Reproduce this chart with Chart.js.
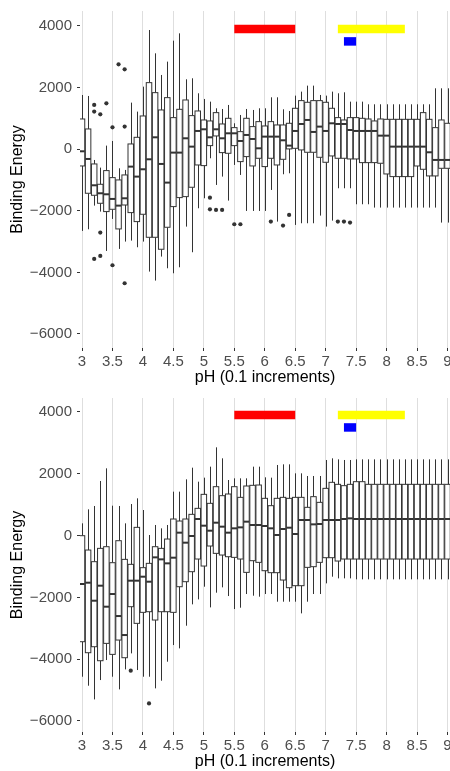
<!DOCTYPE html>
<html lang="en">
<head>
  <meta charset="UTF-8" />
  <title>Binding Energy vs pH</title>
  <script src="https://cdn.jsdelivr.net/npm/chart.js"></script>
  <style>
    body { margin: 0; background: #fff; }
    canvas { display: block; }
  </style>
</head>
<body>
  <canvas id="topChart" width="450" height="387"></canvas>
  <canvas id="bottomChart" width="450" height="384"></canvas>

  <script>
    const ph = [3.0, 3.1, 3.2, 3.3, 3.4, 3.5, 3.6, 3.7, 3.8, 3.9,
                4.0, 4.1, 4.2, 4.3, 4.4, 4.5, 4.6, 4.7, 4.8, 4.9,
                5.0, 5.1, 5.2, 5.3, 5.4, 5.5, 5.6, 5.7, 5.8, 5.9,
                6.0, 6.1, 6.2, 6.3, 6.4, 6.5, 6.6, 6.7, 6.8, 6.9,
                7.0, 7.1, 7.2, 7.3, 7.4, 7.5, 7.6, 7.7, 7.8, 7.9,
                8.0, 8.1, 8.2, 8.3, 8.4, 8.5, 8.6, 8.7, 8.8, 8.9, 9.0];
    const xTicks = [3, 3.5, 4, 4.5, 5, 5.5, 6, 6.5, 7, 7.5, 8, 8.5, 9];
    const yTicks = [-6000, -4000, -2000, 0, 2000, 4000];

    // top panel: whisker low, q1, median, q3, whisker high
    const topLow = [-2654, -2600, -1832, -2026, -3303, -2264, -3238, -3000, -2968, -3184,
                    -3000, -3974, -4266, -3487, -3866, -4028, -3834, -2514, -3346, -1918,
                    -1594, -295, -1161, -890, -1669, -511, -836, -2005, -2005, -2005,
                    -2005, -1323, -2351, -814, -782, -2459, -2405, -2405, -2405, -2156,
                    -2513, -2319, -1269, -1269, -1269, -1788, -1788, -1788, -1896, -1896,
                    -1896, -1896, -1896, -1896, -1896, -1896, -1896, -1896, -1896, -2383, -2383];
    const topQ1 = [-544, -1431, -1496, -1756, -2026, -1951, -2589, -1812, -2059, -2351,
                   -2113, -2860, -2860, -3249, -2535, -1864, -1572, -1540, -1236, -512,
                   -533, 116, 430, -111, -133, 116, -403, -241, -544, -295,
                   -565, -295, -512, -328, 9, 29, -24, -100, -100, -263,
                   -425, -219, -295, -295, -317, -317, -436, -436, -436, -457,
                   -804, -890, -890, -890, -890, -545, -652, -868, -868, -620, -620];
    const topMed = [-68, -317, -1172, -1431, -1464, -1615, -1832, -1594, -566, -890,
                    -652, -328, 386, -479, -1085, -111, -111, 354, 83, 592,
                    646, 386, 646, 354, 516, 516, 267, 462, 332, 29,
                    408, 408, 408, 289, 116, 592, 819, 949, 560, 733,
                    592, 841, 819, 819, 624, 592, 592, 592, 592, 440,
                    440, 83, 83, 83, 83, 83, 83, -100, -349, -349, -349];
    const topQ3 = [981, 657, -479, -1139, -695, -923, -998, -836, 170, 386,
                   1079, 2161, 1836, 1274, 1674, 1025, 1295, 1598, 1090, 1241,
                   949, 917, 1187, 819, 1003, 700, 570, 1003, 733, 895,
                   754, 895, 787, 787, 841, 1328, 1577, 1523, 1577, 1577,
                   1523, 1328, 1025, 949, 1025, 1025, 1003, 981, 917, 981,
                   970, 970, 970, 970, 970, 970, 1187, 970, 700, 949, 841];
    const topHigh = [1760, 1728, -350, -598, 116, 267, -620, -674, 1512, 1220,
                     2031, 3870, 3113, 2410, 2843, 3524, 3762, 2269, 2302, 1815,
                     1631, 1544, 1328, 1306, 1436, 841, 1111, 1306, 1274, 1328,
                     1328, 1685, 1685, 1295, 1241, 1739, 1869, 2064, 2064, 1761,
                     1739, 1869, 1815, 1847, 1544, 1544, 1544, 1458, 1458, 1458,
                     1458, 1458, 1458, 1458, 1458, 1458, 1458, 1458, 1977, 1977, 1977];
    const topOutX = [3.2, 3.2, 3.3, 3.4, 3.5, 3.6, 3.7, 3.7, 3.3, 3.2, 3.3, 3.5, 3.7,
                     5.1, 5.1, 5.2, 5.3, 5.5, 5.6, 6.1, 6.3, 6.4, 7.2, 7.3, 7.4];
    const topOutY = [1436, 1220, 1133, 1490, 711, 2756, 2594, 733, -2708, -3563, -3465, -3768, -4353,
                     -1575, -1951, -1973, -1973, -2437, -2437, -2351, -2481, -2135, -2351, -2351, -2383];

    // bottom panel
    const botLow = [-4567, -4858, -5301, -4675, -4027, -4567, -4977, -4330, -3812, -4351,
                    -4567, -4567, -4944, -4696, -4081, -3542, -3650, -2916, -2225, -2064,
                    -1654, -2323, -1848, -1675, -1956, -2377, -2333, -1891, -1945, -1977,
                    -1891, -1891, -2139, -2139, -2139, -2139, -2517, -2139, -1891, -1891,
                    -1546, -1330, -1384, -1384, -1384, -1416, -1416, -1416, -1416, -1416,
                    -1416, -1416, -1416, -1416, -1416, -1416, -1416, -1416, -1416, -1416, -1416];
    const botQ1 = [-3434, -3790, -3596, -4049, -3488, -3844, -3380, -3952, -2301, -2840,
                   -2484, -2463, -2732, -2463, -2463, -2484, -1654, -1492, -1168, -758,
                   -985, -337, -575, -629, -683, -704, -758, -1190, -812, -866,
                   -1136, -1200, -1200, -1438, -1686, -1621, -1621, -1028, -1006, -866,
                   -715, -715, -823, -758, -758, -758, -758, -758, -758, -758,
                   -758, -758, -758, -758, -758, -758, -758, -758, -758, -758, -758];
    const botMed = [-1567, -1524, -2107, -1621, -2301, -1891, -2603, -3218, -1459, -1459,
                    -1330, -1492, -704, -769, -898, -715, 95, -229, -13, 537,
                    321, 159, 418, 289, 95, 235, 267, 451, 343, 343,
                    310, 235, 19, 213, 256, 51, 505, 505, 364, 375,
                    505, 505, 505, 537, 558, 537, 537, 537, 537, 537,
                    537, 537, 537, 537, 537, 537, 537, 537, 537, 537, 537];
    const botQ3 = [-3, -467, -844, -413, -359, -877, -165, -769, -930, 267,
                   -1038, -898, -359, -413, -111, 537, 472, 537, 688, 882,
                   1335, 1044, 1583, 1292, 1346, 1583, 1238, 1605, 1627, 1637,
                   1206, 968, 1206, 1238, 1206, 1238, 1238, 915, 1260, 1076,
                   1529, 1724, 1659, 1616, 1659, 1745, 1745, 1659, 1659, 1659,
                   1659, 1659, 1659, 1659, 1659, 1659, 1659, 1659, 1659, 1659, 1659];
    const botHigh = [397, 850, 958, 1767, 2177, 968, 958, 397, 1022, 1206,
                     828, 19, 343, 235, 343, 1422, 1422, 1821, 2198, 1745,
                     1875, 2231, 2857, 2501, 1799, 1853, 1853, 1853, 2231, 2231,
                     1886, 1875, 2285, 2306, 2306, 2015, 2015, 1929, 1929, 1929,
                     2447, 2501, 2468, 2447, 2447, 2468, 2468, 2468, 2468, 2468,
                     2468, 2468, 2468, 2468, 2468, 2468, 2468, 2468, 2468, 2468, 2468];
    const botOutX = [3.8, 4.1];
    const botOutY = [-4373, -5430];

    // coloured range markers: [from pH, to pH, energy]
    const redBand = [5.5, 6.5, 3900];
    const yellowBand = [7.2, 8.3, 3900];
    const blueBand = [7.3, 7.5, 3500];

    const boxWidth = 0.09;
    Chart.defaults.font.family = "'Liberation Sans', Arial, Helvetica, sans-serif";

    function boxPlugin(lo, q1, med, q3, hi) {
      return {
        id: 'boxes',
        beforeDatasetsDraw(chart) {
          const { ctx, chartArea, scales: { x, y } } = chart;
          ctx.save();
          ctx.beginPath();
          ctx.rect(chartArea.left, chartArea.top, chartArea.width, chartArea.height);
          ctx.clip();
          ctx.strokeStyle = '#333333';
          ctx.fillStyle = '#ffffff';
          ph.forEach((v, i) => {
            const cx = Math.round(x.getPixelForValue(v)) + 0.5;
            const left = x.getPixelForValue(v - boxWidth / 2);
            const right = x.getPixelForValue(v + boxWidth / 2);
            const yLo = y.getPixelForValue(lo[i]);
            const yQ1 = y.getPixelForValue(q1[i]);
            const yMed = y.getPixelForValue(med[i]);
            const yQ3 = y.getPixelForValue(q3[i]);
            const yHi = y.getPixelForValue(hi[i]);
            ctx.lineWidth = 1;
            ctx.beginPath();
            ctx.moveTo(cx, yHi); ctx.lineTo(cx, yQ3);
            ctx.moveTo(cx, yQ1); ctx.lineTo(cx, yLo);
            ctx.stroke();
            ctx.fillRect(left, yQ3, right - left, yQ1 - yQ3);
            ctx.strokeRect(left, yQ3, right - left, yQ1 - yQ3);
            ctx.lineWidth = 2;
            ctx.beginPath();
            ctx.moveTo(left, yMed); ctx.lineTo(right, yMed);
            ctx.stroke();
          });
          ctx.restore();
        }
      };
    }

    function band(b, color) {
      return {
        data: [{ x: b[0], y: b[2] }, { x: b[1], y: b[2] }],
        showLine: true,
        borderColor: color,
        borderWidth: 8.5,
        borderCapStyle: 'butt',
        pointRadius: 0
      };
    }

    function makeChart(id, plotH, yMin, yMax, outX, outY, boxes) {
      const canvas = document.getElementById(id);
      return new Chart(canvas.getContext('2d'), {
        type: 'scatter',
        data: {
          datasets: [
            {
              data: outX.map((v, i) => ({ x: v, y: outY[i] })),
              pointRadius: 2.1,
              backgroundColor: '#333333',
              borderWidth: 0
            },
            band(redBand, '#ff0000'),
            band(yellowBand, '#ffff00'),
            band(blueBand, '#0000ff')
          ]
        },
        options: {
          responsive: false,
          animation: false,
          layout: { autoPadding: false, padding: { top: 11, left: 0, right: 0, bottom: 0 } },
          plugins: { legend: { display: false }, tooltip: { enabled: false } },
          scales: {
            x: {
              type: 'linear',
              min: 2.967,
              max: 9.041,
              afterBuildTicks: s => { s.ticks = xTicks.map(v => ({ value: v })); },
              afterFit: s => { s.height = canvas.height - 11 - plotH; s.paddingLeft = 0; s.paddingRight = 0; },
              ticks: { autoSkip: false, maxRotation: 0, padding: 2, color: '#4d4d4d', font: { size: 15 }, callback: v => String(v) },
              grid: { color: '#dedede', lineWidth: 1, tickLength: 3, tickColor: '#333333' },
              border: { display: false },
              title: { display: true, text: 'pH (0.1 increments)', color: '#000', font: { size: 16 }, padding: 0 }
            },
            y: {
              min: yMin,
              max: yMax,
              afterBuildTicks: s => { s.ticks = yTicks.map(v => ({ value: v })); },
              afterFit: s => { s.width = 80; s.paddingTop = 0; s.paddingBottom = 0; },
              ticks: { padding: 5, color: '#4d4d4d', font: { size: 15 }, callback: v => v < 0 ? '\u2212' + Math.abs(v) : String(v) },
              grid: { drawOnChartArea: false, tickLength: 3, tickColor: '#333333' },
              border: { display: false },
              title: { display: true, text: 'Binding Energy', color: '#000', font: { size: 16 }, padding: { top: 8.4, bottom: 0 } }
            }
          }
        },
        plugins: [boxes]
      });
    }

    makeChart('topChart', 337, -6455, 4487, topOutX, topOutY, boxPlugin(topLow, topQ1, topMed, topQ3, topHigh));
    makeChart('bottomChart', 334, -6356, 4453, botOutX, botOutY, boxPlugin(botLow, botQ1, botMed, botQ3, botHigh));
  </script>
</body>
</html>
